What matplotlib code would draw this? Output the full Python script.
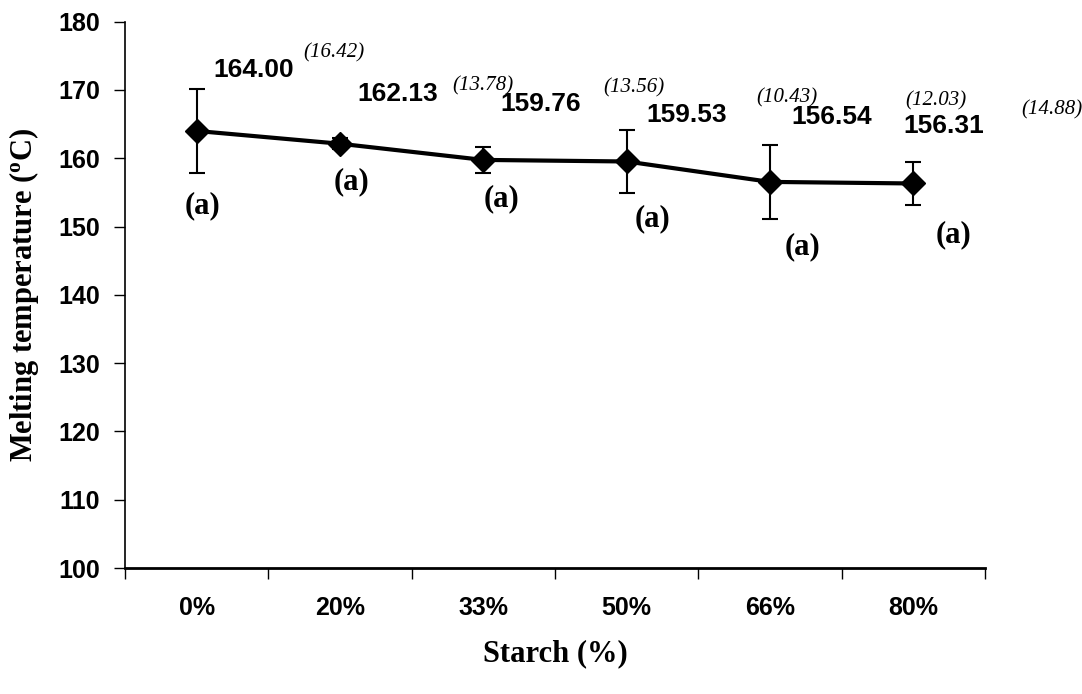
import numpy as np
import matplotlib
matplotlib.use("Agg")
import matplotlib.pyplot as plt

plt.rcParams['mathtext.fontset'] = 'custom'
plt.rcParams['mathtext.rm'] = 'Liberation Serif'
plt.rcParams['mathtext.bf'] = 'Liberation Serif:bold'

# data
starch = ['0%', '20%', '33%', '50%', '66%', '80%']
melt_temp = [164.00, 162.13, 159.76, 159.53, 156.54, 156.31]
err = [6.2, 0.8, 1.9, 4.6, 5.4, 3.2]
sd_text = ['(16.42)', '(13.78)', '(13.56)', '(10.43)', '(12.03)', '(14.88)']
group = ['(a)', '(a)', '(a)', '(a)', '(a)', '(a)']

# label placement (data coords)
val_pos = [(0.40, 172.9), (1.40, 169.4), (2.40, 168.0), (3.42, 166.3), (4.43, 166.0), (5.21, 164.7)]
sd_pos = [(0.955, 175.5), (2.0, 170.6), (3.05, 170.35), (4.12, 168.8), (5.16, 168.4), (5.97, 167.1)]
grp_pos = [(0.04, 153.1), (1.08, 156.6), (2.13, 154.1), (3.18, 151.1), (4.23, 147.0), (5.28, 148.8)]

fig = plt.figure(figsize=(10.82, 6.94), dpi=100)
ax = fig.add_axes([125/1082, 126/694, 860/1082, 546.3/694])

x = np.arange(len(starch))
ax.errorbar(x, melt_temp, yerr=err, color='black', lw=3, marker='D', ms=12,
            ecolor='black', elinewidth=1.5, capsize=6, capthick=1.5, clip_on=False)

for (px, py), v in zip(val_pos, melt_temp):
    ax.text(px, py, '%.2f' % v, ha='center', va='center', fontsize=19,
            fontweight='bold', family='Liberation Sans')
for (px, py), s in zip(sd_pos, sd_text):
    ax.text(px, py, s, ha='center', va='center', fontsize=15, style='italic',
            family='Liberation Serif', clip_on=False)
for (px, py), g in zip(grp_pos, group):
    ax.text(px, py, g, ha='center', va='center', fontsize=22, fontweight='bold',
            family='Liberation Serif')

ax.set_xlim(-0.5, 5.5)
ax.set_ylim(100, 180)
ax.set_yticks(np.arange(100, 181, 10))
ax.set_xticks(np.arange(-0.5, 5.6, 1))
ax.set_xticklabels([])
ax.set_xticks(x, minor=True)
ax.set_xticklabels(starch, minor=True)
ax.tick_params(axis='x', which='minor', length=0, pad=20)
ax.tick_params(axis='x', which='major', length=8, width=1, direction='out')
ax.tick_params(axis='y', length=8, width=1, direction='out', pad=10)
for lab in ax.get_xticklabels(minor=True) + ax.get_yticklabels():
    lab.set_fontweight('bold')
    lab.set_fontsize(18)
    lab.set_family('Liberation Sans')

ax.spines['top'].set_visible(False)
ax.spines['right'].set_visible(False)
ax.spines['left'].set_linewidth(1.2)
ax.spines['bottom'].set_linewidth(2)

ax.set_xlabel('Starch (%)', fontsize=22, fontweight='bold', family='Liberation Serif', labelpad=14)
ax.set_ylabel(r'Melting temperature ($\mathbf{^o}$C)', fontsize=22, fontweight='bold',
              family='Liberation Serif', labelpad=12)

fig.savefig('out.png', dpi=100)
